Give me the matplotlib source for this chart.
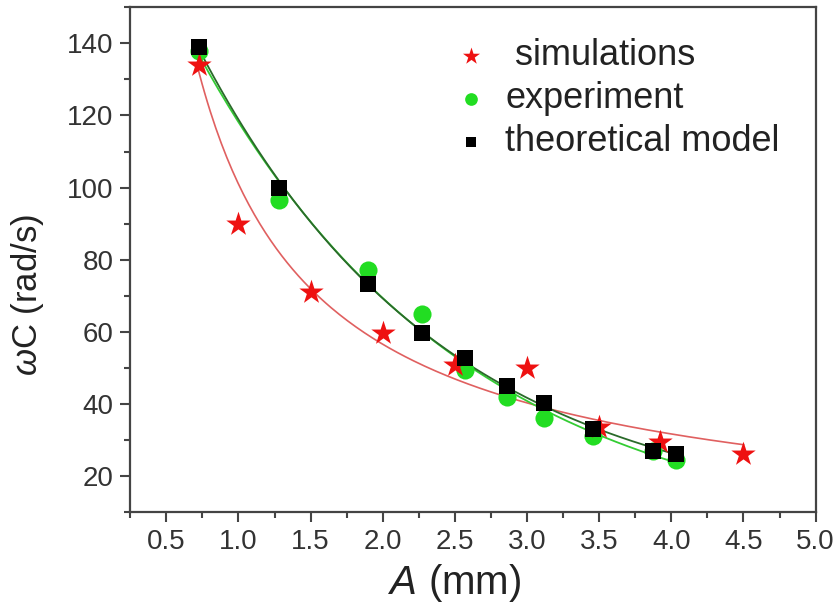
import numpy as np
import matplotlib.pyplot as plt
from matplotlib.ticker import MultipleLocator

# data
sim_A = [0.73, 1.0, 1.5, 2.0, 2.5, 3.0, 3.5, 3.92, 4.5]
sim_w = [134, 90, 71, 59.7, 50.8, 50, 33.5, 29.5, 26]

exp_A = [0.73, 1.28, 1.90, 2.27, 2.57, 2.86, 3.12, 3.46, 3.87, 4.03]
exp_w = [138, 96.5, 77, 65, 49.5, 41.8, 36, 31.2, 27, 24.5]

th_A = [0.73, 1.28, 1.90, 2.27, 2.57, 2.86, 3.12, 3.46, 3.87, 4.03]
th_w = [139, 100, 73.3, 59.8, 52.8, 45, 40.3, 33, 27, 26]

xticks = [0.5, 1.0, 1.5, 2.0, 2.5, 3.0, 3.5, 4.0, 4.5, 5.0]
yticks = [20, 40, 60, 80, 100, 120, 140]


def fit_decay(x, y):
    '''exponential decay y = y0 + a*exp(-x/t), t by grid search'''
    x = np.asarray(x, float)
    y = np.asarray(y, float)
    best = None
    for t in np.linspace(0.2, 5, 500):
        M = np.column_stack([np.ones_like(x), np.exp(-x / t)])
        coef, res, _, _ = np.linalg.lstsq(M, y, rcond=None)
        err = np.sum((M @ coef - y) ** 2)
        if best is None or err < best[0]:
            best = (err, coef[0], coef[1], t)
    _, y0, a, t = best
    return lambda xx: y0 + a * np.exp(-xx / t)


def fit_power(x, y):
    '''power law y = a*x^b, fitted on logs'''
    b, lna = np.polyfit(np.log(x), np.log(y), 1)
    return lambda xx: np.exp(lna) * xx ** b


plt.rcParams['font.family'] = ['Liberation Sans', 'DejaVu Sans']
plt.rcParams['mathtext.fontset'] = 'custom'
plt.rcParams['mathtext.it'] = 'Liberation Sans:italic'
plt.rcParams['mathtext.rm'] = 'Liberation Sans'

fig = plt.figure(figsize=(8.4, 6.06), dpi=100)
ax = fig.add_axes([0.155, 0.155, 0.816, 0.833])

grid_sim = np.linspace(min(sim_A) - 0.02, max(sim_A), 200)
grid_exp = np.linspace(min(exp_A), max(exp_A), 200)
ax.plot(grid_sim, fit_power(sim_A, sim_w)(grid_sim), color='#e06060', lw=1.2, zorder=1)
ax.plot(grid_exp, fit_decay(exp_A, exp_w)(grid_exp), color='#33cc33', lw=1.3, zorder=1)
ax.plot(grid_exp, fit_decay(th_A, th_w)(grid_exp), color='#2a6a2a', lw=1.3, zorder=1)

ax.scatter(sim_A, sim_w, marker='*', s=340, color='#ee1111', lw=0, zorder=3, label=' simulations')
ax.scatter(exp_A, exp_w, marker='o', s=170, color='#22dd22', lw=0, zorder=2, label='experiment')
ax.scatter(th_A, th_w, marker='s', s=120, color='black', lw=0, zorder=4, label='theoretical model')

ax.set_xlim(0.25, 5.0)
ax.set_ylim(10, 150)
ax.set_xticks(xticks)
ax.set_yticks(yticks)
ax.xaxis.set_minor_locator(MultipleLocator(0.25))
ax.yaxis.set_minor_locator(MultipleLocator(10))
ax.tick_params(which='both', direction='out', top=False, right=False,
               colors='#444444', labelcolor='#333333', width=1.5)
ax.tick_params(which='major', length=7, labelsize=20, pad=5)
ax.tick_params(which='minor', length=4)
for s in ax.spines.values():
    s.set_linewidth(1.6)
    s.set_color('#444444')

ax.set_xlabel(r'$A$ (mm)', fontsize=29, color='#222222', va='center')
ax.xaxis.set_label_coords(0.474, -0.14)
ax.set_ylabel(r'$\omega$C (rad/s)', fontsize=25, color='#222222', va='center')
ax.yaxis.set_label_coords(-0.15, 0.43)

ax.legend(loc='upper right', bbox_to_anchor=(0.995, 1.003), frameon=False, fontsize=26,
          handlelength=1.5, handletextpad=0.2, labelspacing=0.22, markerscale=0.7,
          labelcolor='#222222')

fig.savefig('out.png', dpi=100)
